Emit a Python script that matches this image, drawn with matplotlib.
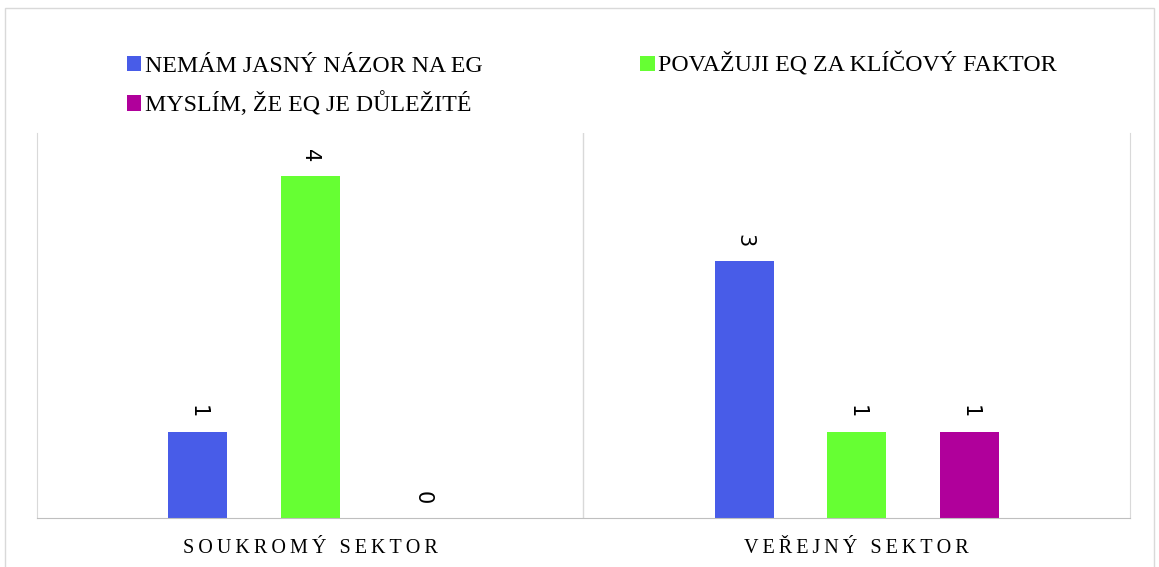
import matplotlib.pyplot as plt
from matplotlib.patches import Rectangle
import numpy as np

categories = ['SOUKROMÝ SEKTOR', 'VEŘEJNÝ SEKTOR']
series_names = ['NEMÁM JASNÝ NÁZOR NA EG', 'POVAŽUJI EQ ZA KLÍČOVÝ FAKTOR',
                'MYSLÍM, ŽE EQ JE DŮLEŽITÉ']
nemam = [1, 3]
povazuji = [4, 1]
myslim = [0, 1]
colors = ['#485CE8', '#66FF33', '#B0009B']


def spaced(s):
    # Excel-style letter spacing with thin spaces
    return '\u2009'.join(s)


fig = plt.figure(figsize=(11.59, 5.67), dpi=100)
fig.patches.append(Rectangle((0.0045, -0.1), 0.9915, 1.086, transform=fig.transFigure,
                             fill=False, edgecolor='#d9d9d9', linewidth=1))
ax = fig.add_axes([0.0319, 0.0864, 0.9431, 0.679])

x = np.arange(len(categories))
offsets = [-0.206, 0.0, 0.206]
bars = []
for vals, off, col, name in zip([nemam, povazuji, myslim], offsets, colors, series_names):
    b = ax.bar(x + off, vals, width=0.108, color=col, label=name, zorder=2)
    bars.append(b)
    for rect, v in zip(b, vals):
        ax.annotate(str(v), (rect.get_x() + rect.get_width() / 2, v),
                    xytext=(0, 10), textcoords='offset points',
                    ha='center', va='bottom', rotation=-90,
                    fontsize=15, family='DejaVu Sans', color='#000000')

ax.set_xlim(-0.5, 1.5)
ax.set_ylim(0, 4.5)
ax.set_yticks([])
ax.set_xticks([])
for xi, cat in zip(x, categories):
    ax.text(xi, -0.078, spaced(cat), ha='center', va='center', fontsize=14.5,
            family='Liberation Serif', color='#000000',
            transform=ax.get_xaxis_transform())
ax.axvline(0.5, color='#d9d9d9', linewidth=1, zorder=1)
for side in ['left', 'right']:
    ax.spines[side].set_color('#d9d9d9')
ax.spines['top'].set_visible(False)
ax.spines['bottom'].set_color('#bfbfbf')

handles, labels = ax.get_legend_handles_labels()
order = [0, 2, 1]
leg = fig.legend([handles[i] for i in order], [labels[i] for i in order],
                 ncol=2, loc='upper left', bbox_to_anchor=(0.091, 0.945),
                 frameon=False, handlelength=0.6, handleheight=0.6,
                 handletextpad=0.15, columnspacing=6.6, labelspacing=0.62,
                 prop={'family': 'Liberation Serif', 'size': 17.2})

fig.savefig('out.png', dpi=100)
